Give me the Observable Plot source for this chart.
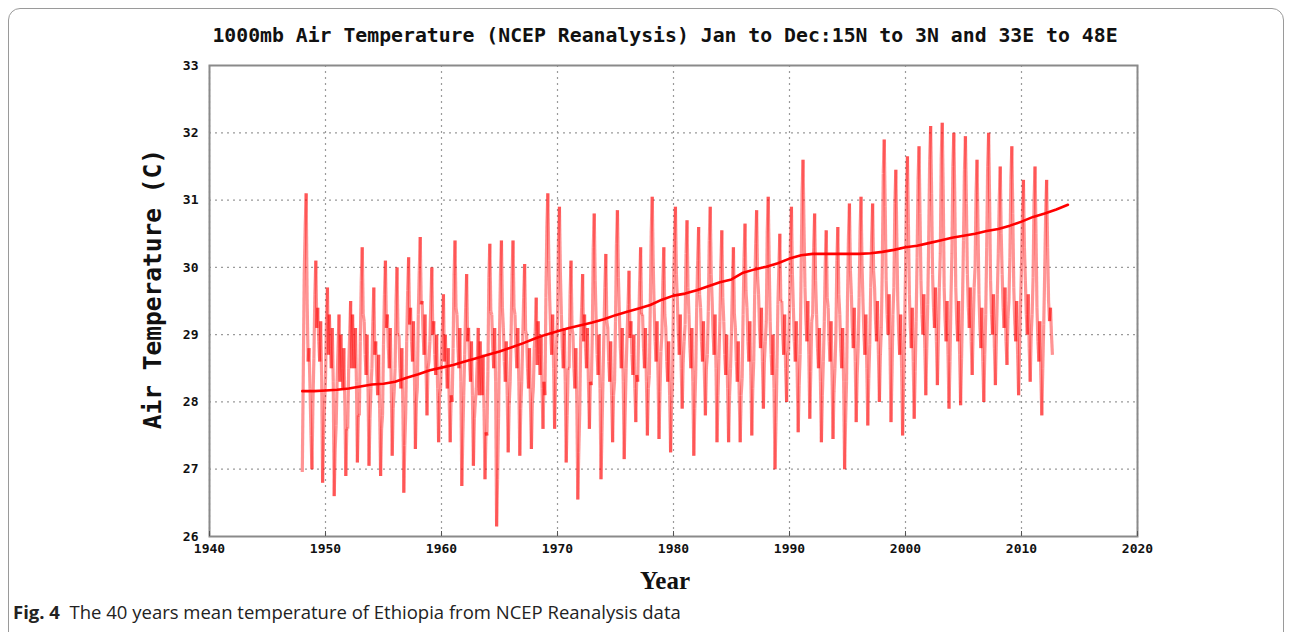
<!DOCTYPE html>
<html><head><meta charset="utf-8">
<script src="https://cdn.jsdelivr.net/npm/d3@7"></script>
<script src="https://cdn.jsdelivr.net/npm/@observablehq/plot@0.6"></script>
<style>
body{margin:0;background:#fff;width:1292px;height:632px;overflow:hidden;position:relative;font-family:"DejaVu Sans Mono",monospace}
#box{position:absolute;left:8px;top:8px;width:1274px;height:640px;border:1px solid #9a9a9a;border-radius:12px}
#title{position:absolute;left:0;width:1330px;top:24px;text-align:center;font:bold 19.8px "DejaVu Sans Mono",monospace;color:#111}
#ylab{position:absolute;left:152px;top:289px;transform:translate(-50%,-50%) rotate(-90deg);font:bold 24.5px "DejaVu Sans Mono",monospace;white-space:nowrap;color:#111}
#xlab{position:absolute;left:0;width:1330px;top:567px;text-align:center;font:bold 25px "Liberation Serif",serif;color:#111}
#cap{position:absolute;left:13px;top:599px;font:18.5px "Open Sans",sans-serif;color:#222;letter-spacing:0}
#chart{position:absolute;left:0;top:0}
</style></head>
<body>
<div id="box"></div>
<div id="title">1000mb Air Temperature (NCEP Reanalysis) Jan to Dec:15N to 3N and 33E to 48E</div>
<div id="chart"></div>
<div id="ylab">Air Temperature (C)</div>
<div id="xlab">Year</div>
<div id="cap"><b>Fig. 4</b>&nbsp; The 40 years mean temperature of Ethiopia from NCEP Reanalysis data</div>
<script>
// Monthly values (Jan..Dec) per year
const temps1948to1959 = [
 [26.96,28.4,29.9,30.6,31.1,29.5,28.6,28.8,28.2,27.5,27.0,28.0],
 [28.65,29.6,30.1,29.1,29.4,28.9,28.6,29.2,28.4,26.8,27.5,27.95],
 [28.35,29.2,29.7,28.7,29.3,28.8,28.5,29.1,28.3,26.6,27.3,27.65],
 [28.3,28.8,29.3,28.3,29.0,28.5,28.2,28.8,28.0,26.9,27.6,27.6],
 [28.5,29.0,29.5,28.5,29.3,28.8,28.5,29.1,28.3,27.1,27.8,27.8],
 [28.9,29.8,30.3,29.3,29.2,28.7,28.4,29.0,28.2,27.05,27.75,28.2],
 [28.5,29.2,29.7,28.7,28.9,28.4,28.1,28.7,27.9,26.9,27.6,27.8],
 [28.85,29.6,30.1,29.1,29.3,28.8,28.5,29.1,28.3,27.2,27.9,28.15],
 [28.5,29.5,30.0,29.0,29.0,28.5,28.2,28.8,28.0,26.65,27.35,27.85],
 [28.9,29.65,30.15,29.15,29.4,28.9,28.6,29.2,28.4,27.3,28.0,28.2],
 [29.3,29.95,30.45,29.45,29.5,29.0,28.7,29.3,28.5,27.8,28.5,28.6],
 [28.9,29.5,30.0,29.0,29.2,28.7,28.4,29.0,28.2,27.4,28.1,28.2]
];
const temps1960s = [
 [28.7,29.1,29.6,28.6,29.0,28.5,28.2,28.8,28.0,27.4,28.1,28.0],
 [28.8,29.9,30.4,29.4,29.3,28.8,28.5,29.1,28.3,26.75,27.45,28.1],
 [28.7,29.4,29.9,28.9,29.1,28.6,28.3,28.9,28.1,27.05,27.75,28.0],
 [28.2,28.6,29.1,28.1,28.9,28.4,28.1,28.7,27.9,26.85,27.55,27.5],
 [28.45,29.85,30.35,29.35,29.3,28.8,28.5,29.1,28.3,26.15,26.85,27.75],
 [29.0,29.9,30.4,29.4,29.1,28.6,28.3,28.9,28.1,27.25,27.95,28.3],
 [29.0,29.9,30.4,29.4,29.3,28.8,28.5,29.1,28.3,27.2,27.9,28.3],
 [28.9,29.55,30.05,29.05,29.0,28.5,28.2,28.8,28.0,27.3,28.0,28.2],
 [28.8,29.05,29.55,28.55,29.2,28.7,28.4,29.0,28.2,27.6,28.3,28.1],
 [29.55,30.6,31.1,30.1,29.5,29.0,28.7,29.3,28.5,27.6,28.3,28.85]
];
const temps1970s = [
 [29.2,30.4,30.9,29.9,29.3,28.8,28.5,29.1,28.3,27.1,27.8,28.5],
 [28.5,29.6,30.1,29.1,29.0,28.5,28.2,28.8,28.0,26.55,27.25,27.85],
 [28.95,29.4,29.9,28.9,29.3,28.8,28.5,29.1,28.3,27.6,28.3,28.25],
 [29.0,30.3,30.8,29.8,29.2,28.7,28.4,29.0,28.2,26.85,27.55,28.3],
 [29.0,29.7,30.2,29.2,29.1,28.6,28.3,28.9,28.1,27.4,28.1,28.3],
 [29.2,30.35,30.85,29.85,29.3,28.8,28.5,29.1,28.3,27.15,27.85,28.5],
 [29.0,29.45,29.95,28.95,29.2,28.7,28.4,29.0,28.2,27.7,28.4,28.3],
 [29.1,29.8,30.3,29.3,29.3,28.8,28.5,29.1,28.3,27.5,28.2,28.4],
 [29.45,30.55,31.05,30.05,29.4,28.9,28.6,29.2,28.4,27.45,28.15,28.75],
 [29.0,29.8,30.3,29.3,29.1,28.6,28.3,28.9,28.1,27.25,27.95,28.3]
];
const temps1980s = [
 [29.6,30.4,30.9,29.9,29.5,29.0,28.7,29.3,28.5,27.9,28.6,28.9],
 [29.15,30.2,30.7,29.7,29.3,28.8,28.5,29.1,28.3,27.2,27.9,28.45],
 [29.4,30.1,30.6,29.6,29.4,28.9,28.6,29.2,28.4,27.8,28.5,28.7],
 [29.35,30.4,30.9,29.9,29.5,29.0,28.7,29.3,28.5,27.4,28.1,28.65],
 [29.2,30.05,30.55,29.55,29.2,28.7,28.4,29.0,28.2,27.4,28.1,28.5],
 [29.05,29.8,30.3,29.3,29.1,28.6,28.3,28.9,28.1,27.4,28.1,28.35],
 [29.3,30.15,30.65,29.65,29.4,28.9,28.6,29.2,28.4,27.5,28.2,28.6],
 [29.6,30.35,30.85,29.85,29.6,29.1,28.8,29.4,28.6,27.9,28.6,28.9],
 [29.2,30.55,31.05,30.05,29.2,28.7,28.4,29.0,28.2,27.0,27.7,28.5],
 [29.45,30.0,30.5,29.5,29.5,29.0,28.7,29.3,28.5,28.0,28.7,28.75]
];
const temps1990s = [
 [29.4,30.4,30.9,29.9,29.4,28.9,28.6,29.2,28.4,27.55,28.25,28.7],
 [29.9,31.1,31.6,30.6,29.7,29.2,28.9,29.5,28.7,27.75,28.45,29.2],
 [29.3,30.3,30.8,29.8,29.3,28.8,28.5,29.1,28.3,27.4,28.1,28.6],
 [29.2,30.05,30.55,29.55,29.4,28.9,28.6,29.2,28.4,27.45,28.15,28.5],
 [29.0,30.1,30.6,29.6,29.3,28.8,28.5,29.1,28.3,27.0,27.7,28.3],
 [29.5,30.45,30.95,29.95,29.6,29.1,28.8,29.4,28.6,27.7,28.4,28.8],
 [29.55,30.55,31.05,30.05,29.5,29.0,28.7,29.3,28.5,27.65,28.35,28.85],
 [29.7,30.45,30.95,29.95,29.7,29.2,28.9,29.5,28.7,28.0,28.7,29.1],
 [30.0,31.4,31.9,30.9,29.8,29.3,29.0,29.6,28.8,27.7,28.4,29.3],
 [29.7,30.95,31.45,30.45,29.5,29.0,28.7,29.3,28.5,27.5,28.2,29.0]
];
const temps2000to2012 = [
 [29.9,31.15,31.65,30.65,29.6,29.1,28.8,29.4,28.6,27.75,28.45,29.2],
 [30.15,31.3,31.8,30.8,29.8,29.3,29.0,29.6,28.8,28.1,28.8,29.45],
 [30.4,31.6,32.1,31.1,29.9,29.4,29.1,29.7,28.9,28.25,28.95,29.7],
 [30.2,31.65,32.15,31.15,29.7,29.2,28.9,29.5,28.7,27.9,28.6,29.5],
 [30.2,31.5,32.0,31.0,29.7,29.2,28.9,29.5,28.7,27.95,28.65,29.5],
 [30.4,31.45,31.95,30.95,29.9,29.4,29.1,29.7,28.9,28.4,29.1,29.7],
 [30.0,31.1,31.6,30.6,29.6,29.1,28.8,29.4,28.6,28.0,28.7,29.3],
 [30.3,31.5,32.0,31.0,29.8,29.3,29.0,29.6,28.8,28.25,28.95,29.6],
 [30.2,31.0,31.5,30.5,29.9,29.4,29.1,29.7,28.9,28.55,29.25,29.5],
 [30.15,31.3,31.8,30.8,29.7,29.2,28.9,29.5,28.7,28.1,28.8,29.45],
 [30.0,30.8,31.3,30.3,29.8,29.3,29.0,29.6,28.8,28.3,29.0,29.3],
 [29.85,31.0,31.5,30.5,29.4,28.9,28.6,29.2,28.4,27.8,28.5,29.15],
 [29.9,30.8,31.3,30.3,29.5,29.2,29.4,29.0,28.7]
];
const firstYear = 1948;
// Smoothed mean line, one value per year (Jan 1st)
const trendYears = d3.range(1948, 2015);
const trendValues = [28.16,28.16,28.17,28.18,28.20,28.23,28.26,28.27,28.30,28.36,
 28.41,28.47,28.51,28.55,28.60,28.65,28.70,28.75,28.81,28.87,
 28.94,29.00,29.05,29.10,29.14,29.18,29.23,29.29,29.34,29.39,
 29.44,29.52,29.58,29.61,29.66,29.72,29.78,29.82,29.92,29.97,
 30.01,30.06,30.13,30.18,30.20,30.20,30.20,30.20,30.20,30.21,
 30.23,30.26,30.30,30.32,30.36,30.40,30.44,30.47,30.50,30.54,
 30.57,30.62,30.68,30.75,30.80,30.86,30.93];
const xTicks = [1940,1950,1960,1970,1980,1990,2000,2010,2020];
const yTicks = [26,27,28,29,30,31,32,33];

const rows = [...temps1948to1959, ...temps1960s, ...temps1970s, ...temps1980s, ...temps1990s, ...temps2000to2012];
const series = [];
rows.forEach((r, i) => r.forEach((v, m) => series.push({x: firstYear + i + m / 12, y: v})));
const segs = series.slice(1).map((d, i) => ({x1: series[i].x, y1: series[i].y, x2: d.x, y2: d.y}));
const trend = trendYears.map((yr, i) => ({x: yr, y: trendValues[i]}));

const chart = Plot.plot({
  width: 1292, height: 600,
  marginLeft: 209, marginRight: 155, marginTop: 65, marginBottom: 64,
  style: {background: "transparent", fontFamily: "DejaVu Sans Mono, monospace"},
  x: {domain: [1940, 2020]},
  y: {domain: [26, 33]},
  marks: [
    Plot.gridX(xTicks, {stroke: "#9a9a9a", strokeOpacity: 1, strokeDasharray: "2,4", strokeWidth: 1.2}),
    Plot.gridY(yTicks, {stroke: "#9a9a9a", strokeOpacity: 1, strokeDasharray: "2,4", strokeWidth: 1.2}),
    Plot.link(segs, {x1: "x1", y1: "y1", x2: "x2", y2: "y2", stroke: "#ff0000", strokeOpacity: 0.42, strokeWidth: 3.2}),
    Plot.line(trend, {x: "x", y: "y", stroke: "#ff0000", strokeWidth: 2.6}),
    Plot.frame({stroke: "#8a8a8a", strokeWidth: 2}),
    Plot.axisX(xTicks, {tickFormat: "d", tickSize: -5, tickPadding: 12, stroke: "#555", fontSize: 13, fontWeight: "bold", fill: "#111", label: null}),
    Plot.axisY(yTicks, {tickFormat: "d", tickSize: 0, tickPadding: 11, fontSize: 13, fontWeight: "bold", fill: "#111", label: null})
  ]
});
document.getElementById("chart").appendChild(chart);
</script>
</body></html>
